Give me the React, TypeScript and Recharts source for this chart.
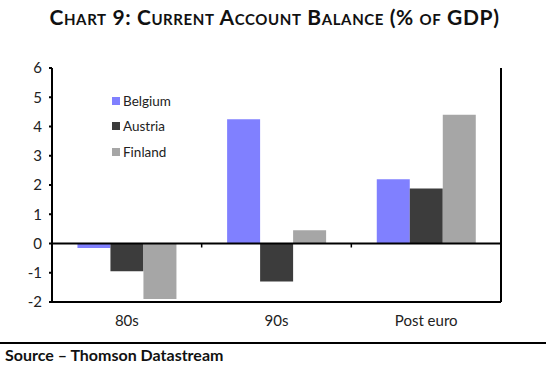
import { BarChart, Bar, XAxis, YAxis, ReferenceLine } from 'recharts';

const periods = ['80s', '90s', 'Post euro'];
const belgium = [-0.15, 4.25, 2.2];
const austria = [-0.95, -1.3, 1.88];
const finland = [-1.9, 0.45, 4.4];
const yTicks = [-2, -1, 0, 1, 2, 3, 4, 5, 6];

const series = [
  { key: 'Belgium', color: '#8080ff' },
  { key: 'Austria', color: '#3c3c3c' },
  { key: 'Finland', color: '#a6a6a6' },
];

const data = periods.map((p, i) => ({
  period: p,
  Belgium: belgium[i],
  Austria: austria[i],
  Finland: finland[i],
}));

const font = 'Lato, "Open Sans", sans-serif';

function LegendBox() {
  return (
    <div style={{ position: 'absolute', left: 112, top: 88, fontFamily: font, fontSize: 13.5, color: '#222' }}>
      {series.map((s) => (
        <div key={s.key} style={{ display: 'flex', alignItems: 'center', height: 25.5 }}>
          <span style={{ width: 8, height: 8, background: s.color, marginRight: 3, display: 'inline-block' }} />
          {s.key}
        </div>
      ))}
    </div>
  );
}

// zero line with small ticks at the category boundaries
function ZeroLine(props: any) {
  const { x1, x2, y1 } = props;
  const w = x2 - x1;
  return (
    <g>
      <line x1={x1} x2={x2} y1={y1} y2={y1} stroke="#000" strokeWidth={2} />
      {[1, 2].map((i) => (
        <line key={i} x1={x1 + (w * i) / 3} x2={x1 + (w * i) / 3} y1={y1} y2={y1 + 4} stroke="#000" strokeWidth={1.5} />
      ))}
    </g>
  );
}

export default function App() {
  const tick = { fill: '#222', fontSize: 15, fontFamily: font };
  return (
    <div style={{ position: 'absolute', left: 0, top: 0, width: 549, height: 375, background: '#fff' }}>
      <div
        style={{
          position: 'absolute', left: 0, top: 4, width: 549, textAlign: 'center', letterSpacing: 0.6,
          fontFamily: font, fontWeight: 'bold', fontSize: 21, fontVariant: 'small-caps', color: '#111',
        }}
      >
        Chart 9: Current Account Balance (% of GDP)
      </div>
      <BarChart
        width={549}
        height={375}
        data={data}
        margin={{ top: 68, right: 0, left: 0, bottom: 43 }}
        barCategoryGap="17%"
        barGap={0}
      >
        <XAxis
          dataKey="period"
          height={30}
          tickLine={false}
          axisLine={{ stroke: '#000', strokeWidth: 2 }}
          tick={tick}
          tickMargin={7}
        />
        <YAxis
          yAxisId="left"
          width={52}
          domain={[-2, 6]}
          ticks={yTicks}
          interval={0}
          axisLine={{ stroke: '#000', strokeWidth: 2 }}
          tickLine={{ stroke: '#000', strokeWidth: 2 }}
          tickSize={3}
          tickMargin={7}
          tick={tick}
        />
        <YAxis
          yAxisId="right"
          orientation="right"
          width={48}
          domain={[-2, 6]}
          ticks={yTicks}
          interval={0}
          axisLine={{ stroke: '#000', strokeWidth: 2 }}
          tickLine={{ stroke: '#000', strokeWidth: 2 }}
          tickSize={3}
          tickMargin={7}
          tick={tick}
        />
        {series.map((s) => (
          <Bar key={s.key} yAxisId="left" dataKey={s.key} fill={s.color} isAnimationActive={false} />
        ))}
        <ReferenceLine yAxisId="left" y={0} shape={<ZeroLine />} />
      </BarChart>
      <LegendBox />
      <div style={{ position: 'absolute', left: 0, top: 342, width: 546, height: 2, background: '#000' }} />
      <div
        style={{
          position: 'absolute', left: 5, top: 345, fontFamily: font, fontWeight: 'bold', fontSize: 16, color: '#111',
        }}
      >
        Source – Thomson Datastream
      </div>
    </div>
  );
}
